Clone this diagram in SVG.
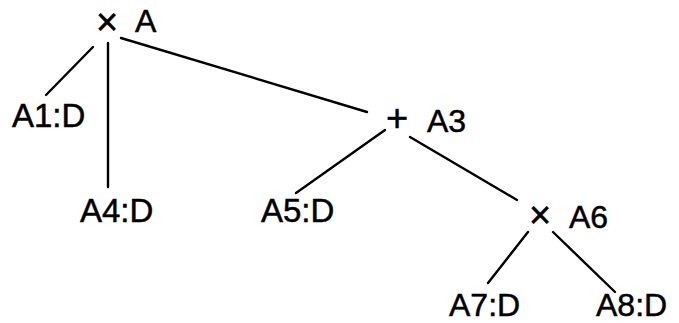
<svg xmlns="http://www.w3.org/2000/svg" width="679" height="323" viewBox="0 0 679 323">
<style>
text{font-family:"Liberation Sans",Arial,sans-serif;font-size:32px;fill:#000;stroke:#000;stroke-width:0.5}
.leaf{font-size:33px}
.low{font-size:32px}
.op{font-size:38px}
.edge{stroke:#000;stroke-width:2.4;stroke-linecap:round;fill:none}
</style>
<rect width="679" height="323" fill="#fff"/>
<g id="connectors">
<line class="edge" x1="93" y1="47" x2="46" y2="95"/>
<line class="edge" x1="108" y1="43" x2="108" y2="187" stroke-width="3"/>
<line class="edge" x1="121" y1="38" x2="367" y2="112"/>
<line class="edge" x1="385" y1="130" x2="296" y2="193"/>
<line class="edge" x1="410" y1="137" x2="517" y2="200"/>
<line class="edge" x1="528" y1="232" x2="488" y2="283"/>
<line class="edge" x1="553" y1="232" x2="615" y2="292"/>
</g>
<g id="nodeA"><text><tspan class="op" x="96" y="35">×</tspan><tspan x="135" y="32">A</tspan></text></g>
<g id="nodeA1"><text class="leaf" x="12" y="127">A1:D</text></g>
<g id="nodeA4"><text class="leaf" x="80" y="222">A4:D</text></g>
<g id="nodeA3"><text><tspan class="op" x="386" y="131">+</tspan><tspan x="427" y="132">A3</tspan></text></g>
<g id="nodeA5"><text class="leaf" x="261" y="222">A5:D</text></g>
<g id="nodeA6"><text><tspan class="op" x="529" y="228">×</tspan><tspan x="569" y="228">A6</tspan></text></g>
<g id="nodeA7"><text class="low" x="449" y="316">A7:D</text></g>
<g id="nodeA8"><text class="low" x="596" y="316">A8:D</text></g>
</svg>
